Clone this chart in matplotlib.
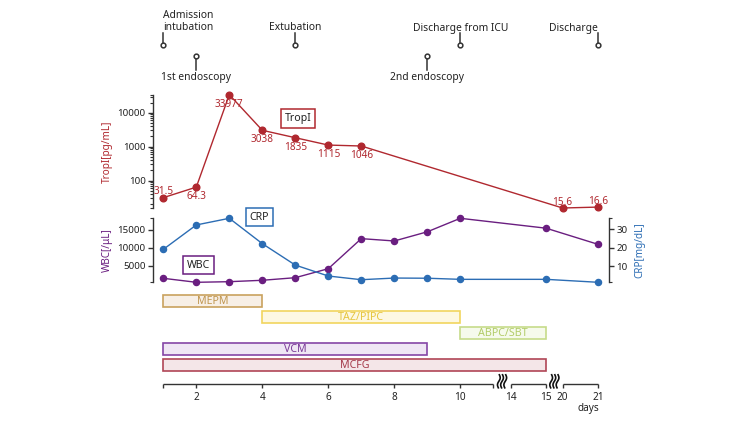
import numpy as np
import matplotlib.pyplot as plt

plt.rcParams['font.family'] = ['Noto Sans', 'DejaVu Sans']
plt.rcParams['font.size'] = 7

# broken day axis: days 1-11, 14-15, 20-21
break_days = [1, 11, 14, 15, 20, 21]
break_pos = [1, 11, 11.53, 12.6, 13.1, 14.18]
segments = [(1, 11), (14, 15), (20, 21)]
tick_days = [1, 2, 4, 6, 8, 10, 11, 14, 15, 20, 21]
tick_labels = ['', '2', '4', '6', '8', '10', '', '14', '15', '20', '21']


def xpos(d):
    return np.interp(d, break_days, break_pos)


# clinical events
events = ['Admission\nintubation', '1st endoscopy', 'Extubation',
          '2nd endoscopy', 'Discharge from ICU', 'Discharge']
event_days = [1, 2, 5, 9, 10, 21]
event_row = [0, 1, 0, 1, 0, 0]
event_ha = ['left', 'center', 'center', 'center', 'center', 'right']

# troponin I
tropi_days = [1, 2, 3, 4, 5, 6, 7, 20, 21]
tropi = [31.5, 64.3, 33977, 3038, 1835, 1115, 1046, 15.6, 16.6]
tropi_above = [True, False, False, False, False, False, False, True, True]

# WBC / CRP
lab_days = [1, 2, 3, 4, 5, 6, 7, 8, 9, 10, 15, 21]
wbc = [1580, 470, 640, 1030, 1750, 4250, 12600, 11950, 14500, 18250, 15500, 11000]
crp = [19.0, 32.2, 35.8, 22.1, 10.5, 4.6, 2.6, 3.5, 3.4, 2.8, 2.8, 1.2]

# antimicrobials
drugs = ['MEPM', 'TAZ/PIPC', 'ABPC/SBT', 'VCM', 'MCFG']
drug_start = [1, 4, 10, 1, 1]
drug_end = [4, 10, 15, 9, 15]
drug_edge = ['#c9a25e', '#f1d55e', '#c6db8a', '#8546a6', '#b04656']
drug_fill = ['#f7efe6', '#fdf8e2', '#f6faec', '#efe6f4', '#f4e6e8']
drug_text = ['#c09650', '#e6c640', '#b2cc68', '#7a3a98', '#a63c4c']

RED = '#b0282f'
PURPLE = '#6a1e80'
BLUE = '#2c6db4'
INK = '#333333'
TXT = '#222222'

W, H = 750, 422
X0, X1 = 152.7, 609.3
xlim = (1 + (X0 - 163.3) / 33, 1 + (X1 - 163.3) / 33)

fig = plt.figure(figsize=(W / 100, H / 100), dpi=100)


def px_axes(top, bottom):
    ax = fig.add_axes([X0 / W, 1 - bottom / H, (X1 - X0) / W, (bottom - top) / H])
    ax.set_xlim(*xlim)
    ax.patch.set_alpha(0)
    return ax


def style_y(ax, side):
    for s in ['top', 'bottom', 'left', 'right']:
        ax.spines[s].set_visible(s == side)
    ax.spines[side].set_color(INK)
    ax.spines[side].set_linewidth(1.0)
    ax.set_xticks([])
    ax.tick_params(axis='y', which='major', length=3.6, width=1.0, color=INK,
                   labelcolor=TXT, labelsize=7, pad=1.5)
    ax.tick_params(axis='y', which='minor', length=2.2, width=0.8, color=INK)


# ---- timeline ----
ax_t = px_axes(0, 92)
ax_t.set_ylim(92, 0)
ax_t.axis('off')
for lab, d, row, ha in zip(events, event_days, event_row, event_ha):
    x = xpos(d)
    if row == 0:
        ax_t.plot([x, x], [33, 43.3], color=INK, lw=1.1)
        ax_t.plot(x, 45.4, 'o', ms=3.4, mfc='white', mec=INK, mew=1.1)
        ax_t.text(x, 33.5, lab, ha=ha, va='bottom', fontsize=7.4, color=TXT,
                  multialignment='left', linespacing=1.25)
    else:
        ax_t.plot([x, x], [58.5, 69.6], color=INK, lw=1.1)
        ax_t.plot(x, 56.4, 'o', ms=3.4, mfc='white', mec=INK, mew=1.1)
        ax_t.text(x, 72.0, lab, ha=ha, va='top', fontsize=7.4, color=TXT)

# ---- troponin ----
ax_tr = px_axes(94.7, 208)
ax_tr.set_yscale('log')
ax_tr.plot(xpos(tropi_days), tropi, '-o', color=RED, lw=1.0, ms=4.8, clip_on=False)
lo, hi = min(tropi), max(tropi)
ax_tr.set_ylim(lo, hi)
style_y(ax_tr, 'left')
ax_tr.set_yticks([100, 1000, 10000], labels=['100', '1000', '10000'])
minors = [k * 10.0 ** e for e in range(1, 5) for k in range(2, 10)]
ax_tr.set_yticks([m for m in minors if lo < m < hi] + [lo, hi], minor=True)
ax_tr.set_ylabel('TropI[pg/mL]', color=RED, fontsize=7.2, labelpad=3)
for d, v, up in zip(tropi_days, tropi, tropi_above):
    ax_tr.annotate(f'{v:g}', (xpos(d), v), xytext=(0, 4.2 if up else -6.9),
                   textcoords='offset points', ha='center', va='center',
                   color=RED, fontsize=7.2)
ax_tr.text(0.319, 0.79, 'TropI', transform=ax_tr.transAxes, ha='center', va='center',
           fontsize=7.6, color=TXT,
           bbox=dict(boxstyle='square,pad=0.35', fc='white', ec=RED, lw=1.1))

# ---- WBC / CRP ----
ax_w = px_axes(218.3, 282.3)
ax_w.plot(xpos(lab_days), wbc, '-o', color=PURPLE, lw=1.0, ms=4.4, clip_on=False)
ax_w.set_ylim(min(wbc), max(wbc))
style_y(ax_w, 'left')
ax_w.set_yticks([5000, 10000, 15000])
ax_w.set_yticks([min(wbc), max(wbc)], minor=True)
ax_w.set_ylabel('WBC[/μL]', color=PURPLE, fontsize=7.2, labelpad=3)

ax_c = ax_w.twinx()
ax_c.set_xlim(*xlim)
ax_c.plot(xpos(lab_days), crp, '-o', color=BLUE, lw=1.0, ms=4.4, clip_on=False)
ax_c.set_ylim(min(crp), max(crp))
style_y(ax_c, 'right')
ax_c.set_yticks([10, 20, 30])
ax_c.set_yticks([min(crp), max(crp)], minor=True)
ax_c.set_ylabel('CRP[mg/dL]', color=BLUE, fontsize=7.2, labelpad=5)

ax_c.text(0.234, 1.017, 'CRP', transform=ax_w.transAxes, ha='center', va='center',
          fontsize=7.6, color=TXT,
          bbox=dict(boxstyle='square,pad=0.35', fc='white', ec=BLUE, lw=1.1))
ax_c.text(0.100, 0.266, 'WBC', transform=ax_w.transAxes, ha='center', va='center',
          fontsize=7.6, color=TXT,
          bbox=dict(boxstyle='square,pad=0.35', fc='white', ec=PURPLE, lw=1.1))

# ---- drugs ----
ax_d = px_axes(293, 373)
rows = np.arange(len(drugs))
left = xpos(drug_start)
width = xpos(drug_end) - left
ax_d.barh(rows, width, left=left, height=0.78, color=drug_fill,
          edgecolor=drug_edge, linewidth=1.2)
for r, name, l, w, c in zip(rows, drugs, left, width, drug_text):
    ax_d.text(l + w / 2, r, name, ha='center', va='center', fontsize=7.7, color=c)
ax_d.set_ylim(len(drugs) - 0.5, -0.5)
ax_d.axis('off')

# ---- broken day axis ----
ax_x = px_axes(374.3, 384.3)
ax_x.set_ylim(0, 1)
for s in ax_x.spines.values():
    s.set_visible(False)
ax_x.set_yticks([])
ax_x.set_xticks(xpos(tick_days), labels=tick_labels)
ax_x.tick_params(axis='x', length=3.2, width=1.0, color=INK, labelcolor=TXT,
                 labelsize=7.2, pad=2.5)
xt = ax_x.get_xaxis_transform()
for a, b in segments:
    ax_x.plot([xpos(a), xpos(b)], [0, 0], color=INK, lw=1.0, transform=xt,
              clip_on=False, solid_capstyle='butt')
t = np.linspace(0, 1, 40)
for (a0, b0), (a1, b1) in zip(segments[:-1], segments[1:]):
    xc = (xpos(b0) + xpos(a1)) / 2
    for k in (-1, 0, 1):
        xs = xc + k * 3.2 / 33 + 1.1 / 33 * np.sin(2 * np.pi * t) - (t - 0.5) * 1.0 / 33
        ys = 0.95 - 1.3 * t
        ax_x.plot(xs, ys, color='#111111', lw=1.2, transform=xt, clip_on=False)
ax_x.annotate('days', (xpos(21), 0), xycoords=xt, xytext=(1, -17.3),
              textcoords='offset points', ha='right', va='center', fontsize=7.2,
              color=TXT)

fig.savefig('out.png', dpi=100)
